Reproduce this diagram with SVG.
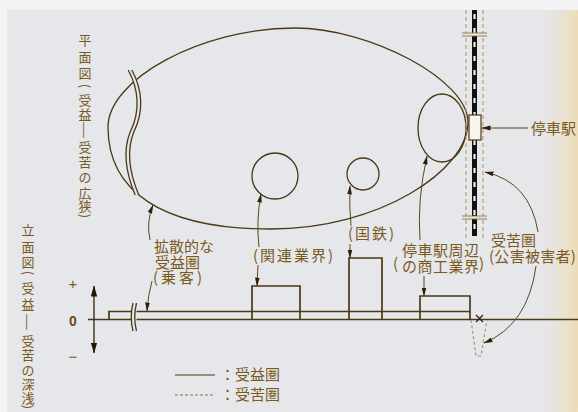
<svg xmlns="http://www.w3.org/2000/svg" width="578" height="412" viewBox="0 0 578 412">
<defs>
<linearGradient id="stain" x1="0" y1="0" x2="1" y2="0">
<stop offset="0" stop-color="#e6e7eb" stop-opacity="0"/>
<stop offset="1" stop-color="#eddcb6" stop-opacity="1"/>
</linearGradient>
<marker id="ah" markerUnits="userSpaceOnUse" markerWidth="9" markerHeight="6" refX="8.5" refY="3" orient="auto">
<path d="M0,0.6 L9,3 L0,5.4 z" fill="#2e2008"/>
</marker>
<marker id="ah2" markerUnits="userSpaceOnUse" markerWidth="11" markerHeight="7" refX="10.5" refY="3.5" orient="auto">
<path d="M0,0.3 L11,3.5 L0,6.7 z" fill="#1e1505"/>
</marker>
<style>
.ln{fill:none;stroke:#4a3914;stroke-width:1.3}
.el{fill:none;stroke:#4a3914;stroke-width:1.7}
.ar{fill:none;stroke:#5a4718;stroke-width:1;marker-end:url(#ah)}
.dl{fill:none;stroke:#b59a62;stroke-width:1.1;stroke-dasharray:4 3}
.t{font-family:"Noto Sans CJK JP","Noto Sans CJK SC",sans-serif;font-size:15px;fill:#7a5a1c}
.v{font-family:"Noto Sans CJK JP","Noto Sans CJK SC",sans-serif;font-size:13px;fill:#7a5a1c;text-anchor:middle;dominant-baseline:central}
</style>
</defs>
<rect x="0" y="0" width="578" height="412" fill="#f3f3f3"/>
<rect x="7" y="10" width="571" height="402" fill="#e6e7eb"/>
<rect x="530" y="10" width="48" height="402" fill="url(#stain)"/>

<g id="label-plan">
<text class="v" x="85" y="39">平</text>
<text class="v" x="85" y="56">面</text>
<text class="v" x="85" y="72">図</text>
<text class="v" x="85" y="86" transform="rotate(90 85 86)">(</text>
<text class="v" x="85" y="99">受</text>
<text class="v" x="85" y="113">益</text>
<text class="v" x="0" y="0" transform="translate(85 130) rotate(90) scale(1.5 1)">—</text>
<text class="v" x="85" y="146">受</text>
<text class="v" x="85" y="161">苦</text>
<text class="v" x="85" y="176">の</text>
<text class="v" x="85" y="192">広</text>
<text class="v" x="85" y="205">狭</text>
<text class="v" x="85" y="216" transform="rotate(90 85 216)">)</text>
</g>
<g id="label-elevation">
<text class="v" x="28" y="229">立</text>
<text class="v" x="28" y="246">面</text>
<text class="v" x="28" y="261">図</text>
<text class="v" x="28" y="273" transform="rotate(90 28 273)">(</text>
<text class="v" x="28" y="287">受</text>
<text class="v" x="28" y="303">益</text>
<text class="v" x="0" y="0" transform="translate(28 322) rotate(90) scale(1.5 1)">—</text>
<text class="v" x="28" y="340">受</text>
<text class="v" x="28" y="354">苦</text>
<text class="v" x="28" y="369">の</text>
<text class="v" x="28" y="383">深</text>
<text class="v" x="28" y="397">浅</text>
<text class="v" x="28" y="407" transform="rotate(90 28 407)">)</text>
</g>

<g id="plan-area">
<path class="ln" d="M108,127 C108,80 200,28 295,28 C370,28 468,80 468,122 C468,170 380,229 270,229 C160,229 108,190 108,127 Z"/>
<path d="M130,70 C141,90 142,112 132,132 C124,152 129,176 137,195" fill="none" stroke="#e6e7eb" stroke-width="4"/>
<path class="ln" stroke-width="1" d="M128.2,70 C139.2,90 140.2,112 130.2,132 C122.2,152 127.2,176 135.2,195"/>
<path class="ln" stroke-width="1" d="M131.8,70 C142.8,90 143.8,112 133.8,132 C125.8,152 130.8,176 138.8,195"/>
</g>

<g id="node-kanren-circle"><circle class="ln" cx="275" cy="176" r="23"/></g>
<g id="node-kokutetsu-circle"><circle class="ln" cx="363" cy="174" r="16"/></g>
<g id="node-station-area"><ellipse class="ln" cx="442" cy="128" rx="24" ry="34"/></g>

<g id="railway">
<line class="dl" x1="466" y1="10" x2="466" y2="238"/>
<line class="dl" x1="483" y1="10" x2="483" y2="238"/>
<line x1="474.5" y1="10" x2="474.5" y2="236" stroke="#111" stroke-width="5"/>
<line x1="474.5" y1="14" x2="474.5" y2="236" stroke="#f4f1e6" stroke-width="2.2" stroke-dasharray="5 9"/>
<rect x="462" y="33" width="25" height="3" fill="#e6e7eb"/>
<line x1="462" y1="33" x2="487" y2="33" stroke="#8a7440" stroke-width="0.9"/>
<line x1="462" y1="36" x2="487" y2="36" stroke="#8a7440" stroke-width="0.9"/>
<rect x="462" y="216" width="25" height="3" fill="#e6e7eb"/>
<line x1="462" y1="216" x2="487" y2="216" stroke="#8a7440" stroke-width="0.9"/>
<line x1="462" y1="219" x2="487" y2="219" stroke="#8a7440" stroke-width="0.9"/>
</g>
<g id="node-station"><rect x="469" y="115" width="12" height="25" fill="#f7f5ee" stroke="#4a3914" stroke-width="1.2"/></g>

<g id="elevation">
<line class="el" x1="88" y1="319.5" x2="578" y2="319.5"/>
<path class="el" d="M109,319.5 V311.5 H132"/>
<line class="el" x1="136" y1="311.5" x2="470" y2="311.5"/>
<rect x="131.5" y="303" width="5" height="28" fill="#e6e7eb"/>
<path class="ln" stroke-width="1" d="M133,303 Q129.5,317 133,331"/>
<path class="ln" stroke-width="1" d="M136.5,303 Q133,317 136.5,331"/>
<path class="el" d="M252,319.5 V286 H300 V319.5"/>
<path class="el" d="M349,319.5 V258 H382 V319.5"/>
<path class="el" d="M420,319.5 V296 H470 V319.5"/>
<path d="M476,315 L483,322 M483,315 L476,322" stroke="#2e2008" stroke-width="1.2"/>
<path d="M471,320 L476,356 L481,356 L487,320" fill="none" stroke="#a88e55" stroke-width="1.1" stroke-dasharray="3 2.5"/>
<line x1="94" y1="319" x2="94" y2="286" stroke="#2e2008" stroke-width="1.3" marker-end="url(#ah2)"/>
<line x1="94" y1="319" x2="94" y2="353" stroke="#2e2008" stroke-width="1.3" marker-end="url(#ah2)"/>
<text x="73" y="289" font-family="Liberation Sans, sans-serif" font-size="15" fill="#7a5a1c" text-anchor="middle">+</text>
<text x="73" y="326" font-family="Liberation Sans, sans-serif" font-size="14" font-weight="bold" fill="#6a4e18" text-anchor="middle">0</text>
<text x="73" y="362" font-family="Liberation Sans, sans-serif" font-size="15" fill="#7a5a1c" text-anchor="middle">−</text>
</g>

<g id="connectors">
<path class="ar" d="M150,240 Q146,222 153,205"/>
<path class="ar" d="M152,281 Q148,295 147,311"/>
<path class="ar" d="M259,247 Q256,220 261,194"/>
<path class="ar" d="M258,265 L257,286"/>
<path class="ar" d="M351,226 Q349,205 350,186"/>
<path class="ar" d="M350,244 L350,258"/>
<path class="ar" d="M420,240 Q417,200 427,156"/>
<path class="ar" d="M424,276 L424,296"/>
<path class="ar" d="M528,128 L482,128"/>
<path class="ar" d="M538,232 Q530,182 485,172"/>
<path class="ar" d="M536,266 Q528,325 484,343"/>
</g>

<g id="node-station-label"><text class="t" x="531" y="134">停車駅</text></g>
<g id="node-kakusan"><text class="t" x="154" y="252">拡散的な</text><text class="t" x="155" y="267.5">受益圏</text><text class="t" x="153" y="283" letter-spacing="3">(乗客)</text></g>
<g id="node-kanren"><text class="t" x="253" y="261" letter-spacing="2">(関連業界)</text></g>
<g id="node-kokutetsu"><text class="t" x="348" y="239" letter-spacing="2">(国鉄)</text></g>
<g id="node-shoko">
<text class="t" x="393" y="269" font-size="30">(</text>
<text class="t" x="402" y="256" letter-spacing="0.5">停車駅周辺</text>
<text class="t" x="402" y="272" letter-spacing="0.5">の商工業界</text>
<text class="t" x="479" y="269" font-size="30">)</text>
</g>
<g id="node-kuku"><text class="t" x="491" y="246">受苦圏</text><text class="t" x="489" y="262" letter-spacing="0.3">(公害被害者)</text></g>

<g id="legend">
<line x1="175" y1="375" x2="215" y2="375" stroke="#4a3914" stroke-width="1.2"/>
<text class="t" x="220" y="380" font-size="14">：受益圏</text>
<line x1="175" y1="395" x2="215" y2="395" stroke="#8a7440" stroke-width="1.1" stroke-dasharray="3 2"/>
<text class="t" x="220" y="400" font-size="14">：受苦圏</text>
</g>
</svg>
